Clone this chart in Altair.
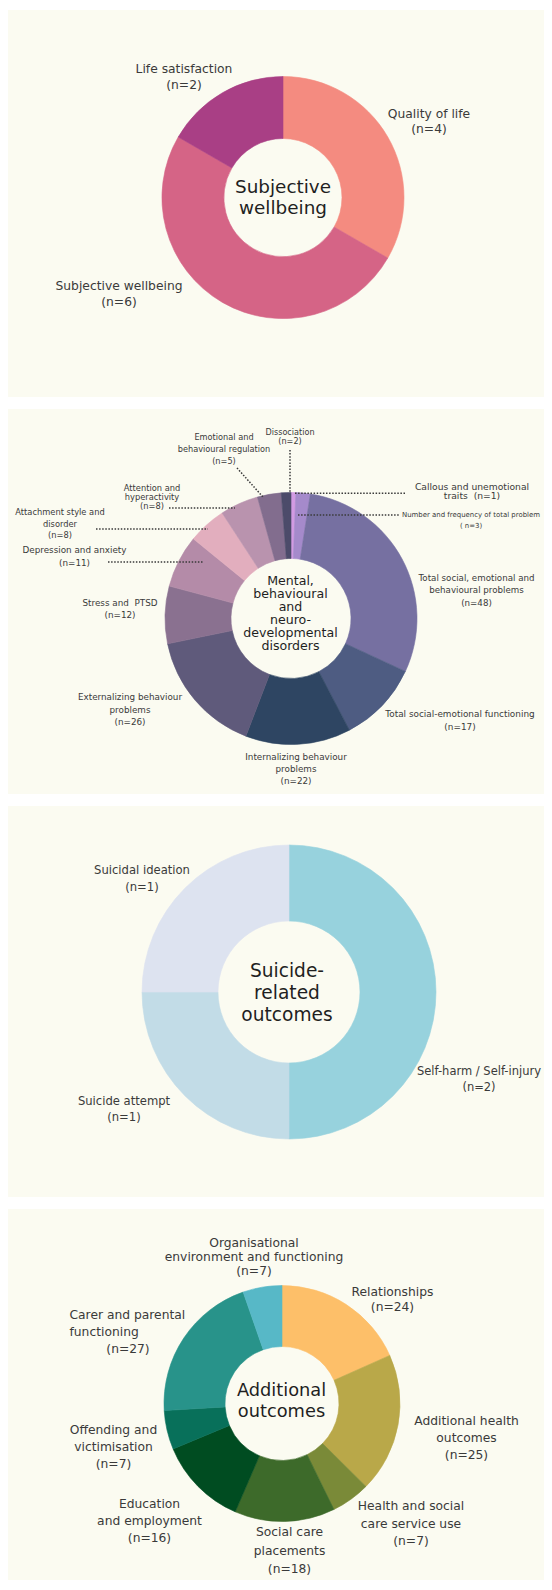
import altair as alt
import pandas as pd

FONT = "DejaVu Sans"
CREAM = "#fbfbf1"
LABEL_COLOR = "#3a3a3a"
TITLE_COLOR = "#1f1f1f"
W = 536

# ---------------- data ----------------
p1_categories = ["Quality of life", "Subjective wellbeing", "Life satisfaction"]
p1_counts = [4, 6, 2]
p1_colors = ["#f48b80", "#d56486", "#a93f85"]
p1_title = ["Subjective", "wellbeing"]

p2_categories = [
    "Callous and unemotional traits",
    "Number and frequency of total problem",
    "Total social, emotional and behavioural problems",
    "Total social-emotional functioning",
    "Internalizing behaviour problems",
    "Externalizing behaviour problems",
    "Stress and PTSD",
    "Depression and anxiety",
    "Attachment style and disorder",
    "Attention and hyperactivity",
    "Emotional and behavioural regulation",
    "Dissociation",
]
p2_counts = [1, 3, 48, 17, 22, 26, 12, 11, 8, 8, 5, 2]
p2_colors = ["#d29be3", "#a58acb", "#7670a1", "#4e5c82", "#2e4562", "#5f5a7b",
             "#8a7190", "#b48ba8", "#e2aebe", "#b993ae", "#826d8e", "#4c4b6a"]
p2_title = ["Mental,", "behavioural", "and", "neuro-", "developmental", "disorders"]

p3_categories = ["Self-harm / Self-injury", "Suicide attempt", "Suicidal ideation"]
p3_counts = [2, 1, 1]
p3_colors = ["#97d2dd", "#c2dce7", "#dde3f0"]
p3_title = ["Suicide-", "related", "outcomes"]

p4_categories = [
    "Relationships",
    "Additional health outcomes",
    "Health and social care service use",
    "Social care placements",
    "Education and employment",
    "Offending and victimisation",
    "Carer and parental functioning",
    "Organisational environment and functioning",
]
p4_counts = [24, 25, 7, 18, 16, 7, 27, 7]
p4_colors = ["#fdbf69", "#b9a849", "#7a8a38", "#3d6a2a", "#004c21", "#08705a",
             "#28938a", "#57b8c7"]
p4_title = ["Additional", "outcomes"]

# label text lines ({n} is filled from the counts)
p1_label_lines = [["Quality of life", "(n={n})"],
                  ["Subjective wellbeing", "(n={n})"],
                  ["Life satisfaction", "(n={n})"]]
p2_label_lines = [
    ["Callous and unemotional", "traits\u00a0 (n={n})"],
    ["Number and frequency of total problem", "( n={n})"],
    ["Total social, emotional and", "behavioural problems", "(n={n})"],
    ["Total social-emotional functioning", "(n={n})"],
    ["Internalizing behaviour", "problems", "(n={n})"],
    ["Externalizing behaviour", "problems", "(n={n})"],
    ["Stress and\u00a0 PTSD", "(n={n})"],
    ["Depression and anxiety", "(n={n})"],
    ["Attachment style and", "disorder", "(n={n})"],
    ["Attention and", "hyperactivity", "(n={n})"],
    ["Emotional and", "behavioural regulation", "(n={n})"],
    ["Dissociation", "(n={n})"],
]
p3_label_lines = [["Self-harm / Self-injury", "(n={n})"],
                  ["Suicide attempt", "(n={n})"],
                  ["Suicidal ideation", "(n={n})"]]
p4_label_lines = [
    ["Relationships", "(n={n})"],
    ["Additional health", "outcomes", "(n={n})"],
    ["Health and social", "care service use", "(n={n})"],
    ["Social care", "placements", "(n={n})"],
    ["Education", "and employment", "(n={n})"],
    ["Offending and", "victimisation", "(n={n})"],
    ["Carer and parental", "functioning", "(n={n})"],
    ["Organisational", "environment and functioning", "(n={n})"],
]

# ---------------- layout (page pixels; converted to panel pixels below) ----------------
TOP_PAD = 2
PANEL_H = [387, 385, 391, 371]
SPACING = 12
PANEL_ORIGIN = []
_y = 8 + TOP_PAD
for _h in PANEL_H:
    PANEL_ORIGIN.append((8, _y))
    _y += _h + SPACING

# donut: cx, cy, inner radius, outer radius
p1_donut = (283, 197.5, 59, 121)
p2_donut = (291, 618.5, 60, 126)
p3_donut = (289, 992, 71, 147)
p4_donut = (282, 1403.5, 57, 118)

# label: x, first-line y, line height, font size
p1_label_pos = [(429, 114, 15, 12.3), (119, 286, 16, 12.3), (184, 69, 16, 12.3)]
p2_label_pos = [(472, 487.3, 8.7, 9.2), (471, 515.3, 10.7, 6.95), (476.5, 578, 12.3, 8.7),
                (460, 714, 13, 8.9), (296, 757, 12, 8.8), (130, 697, 12.5, 8.8),
                (120, 603, 12, 8.8), (74.5, 550, 13, 8.8), (60, 513, 11.5, 8.3),
                (152, 489, 9, 8.3), (224, 438, 12, 8.2), (290, 433.3, 8.4, 8.1)]
p3_label_pos = [(479, 1072, 16, 11.5), (124, 1102, 16, 11.6), (142, 871, 17, 11.6)]
p4_label_pos = [(392.5, 1292, 15, 12.3), (466.5, 1421, 17, 12.3), (411, 1506, 17.5, 12.3),
                (289.5, 1532, 18.5, 12.3), (149.5, 1504, 17, 12.3), (113.5, 1430, 17, 12.3),
                (69.5, 1315, 17, 12.3), (254, 1243, 14, 12.3)]
# Carer label: first two lines left aligned, count centred below
p4_line_override = {6: [(69.5, "left"), (69.5, "left"), (128, "center")]}

# title: x, first-line y, line height, font size
p1_title_pos = (283, 186.7, 21.5, 18.4)
p2_title_pos = (290.5, 581, 13, 12.6)
p3_title_pos = (287, 971, 22, 18.6)
p4_title_pos = (281.5, 1391, 21, 17.8)

# dotted leader lines for panel 2: x, y, x2, y2
p2_leaders = [(290, 450, 290, 492), (237, 468, 263, 497), (169, 508, 235, 508),
              (96, 529, 208, 529), (108, 562, 203, 562), (295, 493.3, 405, 493.3),
              (298, 515, 400, 515)]


def donut(cats, counts, colors, geom, org):
    cx, cy, r_in, r_out = geom
    ox, oy = org
    df = pd.DataFrame({"cat": cats, "n": counts, "ord": list(range(len(cats)))})
    sc = alt.Scale(domain=cats, range=colors)
    return alt.Chart(df).mark_arc(innerRadius=r_in, outerRadius=r_out, strokeWidth=0.6).encode(
        theta=alt.Theta("n:Q", stack=True),
        order=alt.Order("ord:Q"),
        color=alt.Color("cat:N", scale=sc, legend=None),
        stroke=alt.Stroke("cat:N", scale=sc, legend=None),
        x=alt.value(cx - ox),
        y=alt.value(cy - oy),
    )


def text_layer(df, color, align):
    return alt.Chart(df).mark_text(font=FONT, color=color, align=align, baseline="middle").encode(
        x=alt.X("x:Q", scale=None, axis=None),
        y=alt.Y("y:Q", scale=None, axis=None),
        text="t:N",
        size=alt.Size("fs:Q", scale=None, legend=None),
    )


def labels(counts, lines, pos, org, override=None):
    ox, oy = org
    override = override or {}
    rows = []
    for i, (n, tmpl, (x, y0, lh, fs)) in enumerate(zip(counts, lines, pos)):
        for j, line in enumerate(tmpl):
            lx, al = (x, "center")
            if i in override:
                lx, al = override[i][j]
            rows.append({"x": lx - ox, "y": y0 - oy + j * lh, "t": line.format(n=n),
                         "fs": fs, "al": al})
    df = pd.DataFrame(rows)
    layers = []
    for al in ["center", "left"]:
        sub = df[df.al == al]
        if len(sub):
            layers.append(text_layer(sub.drop(columns="al"), LABEL_COLOR, al))
    return layers


def title(lines, pos, org):
    ox, oy = org
    x, y0, lh, fs = pos
    df = pd.DataFrame({"x": [x - ox] * len(lines),
                       "y": [y0 - oy + i * lh for i in range(len(lines))],
                       "t": lines, "fs": [fs] * len(lines)})
    return text_layer(df, TITLE_COLOR, "center")


def leaders(segs, org):
    ox, oy = org
    df = pd.DataFrame([(a - ox, b - oy, c - ox, d - oy) for a, b, c, d in segs],
                      columns=["x", "y", "x2", "y2"])
    return alt.Chart(df).mark_rule(color="#3a3a3a", strokeWidth=1.5, strokeDash=[1.5, 1.6]).encode(
        x=alt.X("x:Q", scale=None, axis=None),
        y=alt.Y("y:Q", scale=None, axis=None),
        x2="x2:Q",
        y2="y2:Q",
    )


o1, o2, o3, o4 = PANEL_ORIGIN

panel1 = alt.layer(
    donut(p1_categories, p1_counts, p1_colors, p1_donut, o1),
    *labels(p1_counts, p1_label_lines, p1_label_pos, o1),
    title(p1_title, p1_title_pos, o1),
).properties(width=W, height=PANEL_H[0])

panel2 = alt.layer(
    donut(p2_categories, p2_counts, p2_colors, p2_donut, o2),
    leaders(p2_leaders, o2),
    *labels(p2_counts, p2_label_lines, p2_label_pos, o2),
    title(p2_title, p2_title_pos, o2),
).properties(width=W, height=PANEL_H[1])

panel3 = alt.layer(
    donut(p3_categories, p3_counts, p3_colors, p3_donut, o3),
    *labels(p3_counts, p3_label_lines, p3_label_pos, o3),
    title(p3_title, p3_title_pos, o3),
).properties(width=W, height=PANEL_H[2])

panel4 = alt.layer(
    donut(p4_categories, p4_counts, p4_colors, p4_donut, o4),
    *labels(p4_counts, p4_label_lines, p4_label_pos, o4, p4_line_override),
    title(p4_title, p4_title_pos, o4),
).properties(width=W, height=PANEL_H[3])

chart = alt.vconcat(panel1, panel2, panel3, panel4, spacing=SPACING).properties(
    padding={"left": 0, "top": TOP_PAD, "right": 0, "bottom": 0},
    background="white",
).resolve_scale(color="independent", stroke="independent").configure_view(
    fill=CREAM, strokeWidth=0
)

chart.save("out.html", embed_options={"renderer": "svg", "actions": False})
